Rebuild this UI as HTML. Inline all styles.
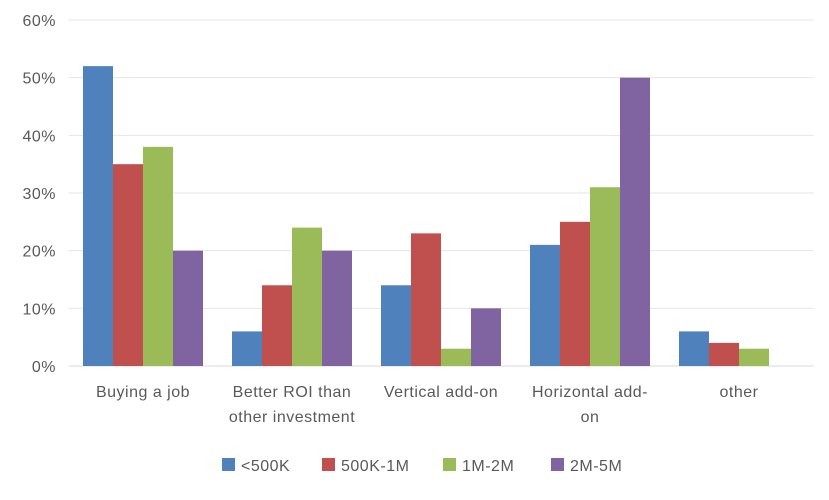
<!DOCTYPE html>
<html><head><meta charset="utf-8"><style>
body{margin:0;background:#fff;}
svg text{font-family:"Liberation Sans",sans-serif;font-size:16px;letter-spacing:0.5px;fill:#595959;}
</style></head><body>
<svg id="chart" width="829" height="495" viewBox="0 0 829 495" xmlns="http://www.w3.org/2000/svg">
<g id="grid"></g><g id="bars"></g><g id="labels"></g><g id="legend"></g>
</svg>
<script>
const categories=[["Buying a job"],["Better ROI than","other investment"],["Vertical add-on"],["Horizontal add-","on"],["other"]];
const seriesNames=["<500K","500K-1M","1M-2M","2M-5M"];
const s500k=[52,6,14,21,6];
const s500k1m=[35,14,23,25,4];
const s1m2m=[38,24,3,31,3];
const s2m5m=[20,20,10,50,0];
const yTicks=[0,10,20,30,40,50,60];
const series=[s500k,s500k1m,s1m2m,s2m5m];
const colors=["#4f81bd","#c0504d","#9bbb59","#8064a2"];
const NS="http://www.w3.org/2000/svg";
const left=68.5,right=813.5,y0=366,yTop=20;
const y=v=>y0-(v/60)*(y0-yTop);
const catW=(right-left)/categories.length,barW=30;
const x=(ci,si)=>left+ci*catW+(catW-barW*4)/2+si*barW;
function mk(t,a,p){const e=document.createElementNS(NS,t);for(const k in a)e.setAttribute(k,a[k]);p.appendChild(e);return e;}
const grid=document.getElementById('grid'),bars=document.getElementById('bars'),labels=document.getElementById('labels'),legend=document.getElementById('legend');
yTicks.forEach(t=>{
const l=mk('line',{x1:left,x2:right,y1:y(t),y2:y(t),stroke:t===0?'#d9d9d9':'#e6e6e6','stroke-width':1},grid);


const tx=mk('text',{x:56,y:y(t)+6,'text-anchor':'end'},labels);tx.textContent=t+'%';


});
series.forEach((s,si)=>s.forEach((v,ci)=>{
const r=mk('rect',{x:x(ci,si),y:y(v),width:barW,height:y0-y(v),fill:colors[si]},bars);


}));
categories.forEach((c,ci)=>{
const cx=left+ci*catW+catW/2;
c.forEach((line,li)=>{
const t=mk('text',{x:cx,y:397+li*25,'text-anchor':'middle'},labels);t.textContent=line;


});
});
const lx=[222,322,443,551];
seriesNames.forEach((n,i)=>{
const g=mk('g',{},legend);


mk('rect',{x:lx[i],y:458,width:13,height:13,fill:colors[i]},g);
const t=mk('text',{x:lx[i]+19,y:471},g);t.textContent=n;
});
</script>
</body></html>
